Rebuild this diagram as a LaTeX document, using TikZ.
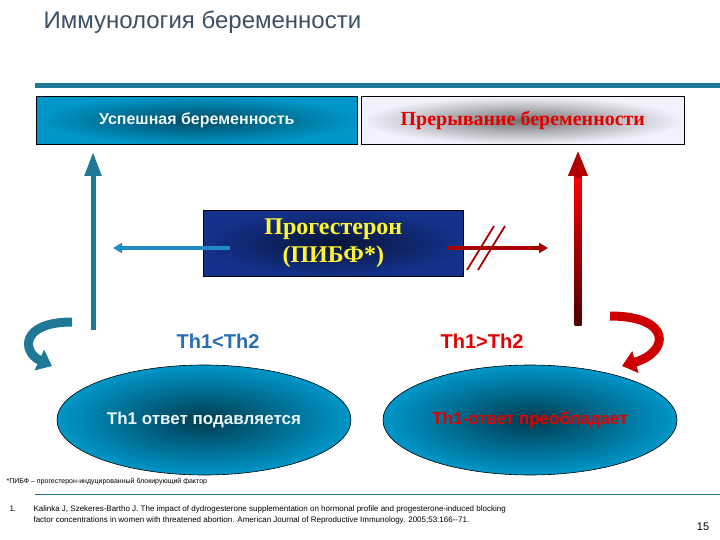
\documentclass[tikz,border=0pt]{standalone}
\usepackage{fontspec}
\setmainfont{Liberation Serif}
\newfontfamily\sansf{Liberation Sans}
\usetikzlibrary{arrows.meta,shapes.geometric,decorations.pathmorphing}
\definecolor{cyanb}{RGB}{0,150,200}
\definecolor{teal1}{RGB}{30,120,150}
\definecolor{navy1}{RGB}{20,50,140}
\definecolor{dred}{RGB}{170,0,0}
\definecolor{tblue}{RGB}{40,110,180}
\definecolor{titlec}{RGB}{60,80,100}
\begin{document}
\begin{tikzpicture}[x=1pt,y=-1pt,
  cbox/.style={draw=black,line width=0.6pt,minimum width=321pt,minimum height=48pt,anchor=north west},
  bigarrow/.style={line width=#1,-{Triangle[length=24pt,width=16pt]}},
  curvarrow/.style={line width=9pt,-{Triangle[length=14pt,width=22pt]}},
  ell/.style={ellipse,draw=black,line width=0.6pt,minimum width=294pt,minimum height=110pt,inner color=black!60!cyanb,outer color=cyanb}]
\useasboundingbox (0,0) rectangle (720,540);
\fill[white] (0,0) rectangle (720,540);
\node[anchor=west,text=titlec,font=\sansf\fontsize{24}{28}\selectfont] (title) at (40,22) {Иммунология беременности};
\draw[teal1,line width=5pt] (35,86) -- (720,86);
\node[cbox,inner color=black!50!cyanb,outer color=cyanb,font=\sansf\bfseries\fontsize{16}{18}\selectfont,text=white!92!cyanb] (ok) at (36,96) {Успешная беременность};
\node[cbox,minimum width=323pt,inner color=black!55,outer color=blue!5,font=\bfseries\fontsize{20}{22}\selectfont,text=red!90!black] (ab) at (361,96) {Прерывание беременности};
\node[draw=black,line width=0.6pt,minimum width=260pt,minimum height=66pt,anchor=north west,inner color=black!60!navy1,outer color=navy1,text=yellow!80!white,font=\bfseries\fontsize{24}{28}\selectfont,align=center] (pg) at (203,210) {Прогестерон\\(ПИБФ*)};
\coordinate (la0) at (93,330);
\coordinate (la1) at (93,152);
\draw[bigarrow=5pt,teal1] (la0) -- (la1);
\coordinate (ra0) at (578,325);
\coordinate (ra1) at (578,150);
\shade[top color=red,bottom color=black!70!red] (574.5,175) rectangle (581.5,325);
\draw[line width=7pt,-{Triangle[length=26pt,width=18pt]},red!70!black] (578,178) -- (ra1);
\coordinate (pl) at (230,248);
\coordinate (pl1) at (113,248);
\draw[line width=4pt,-{Triangle[length=9pt,width=10pt]},tblue!80!cyan] (pl) -- (pl1);
\coordinate (pr) at (447,248);
\coordinate (pr1) at (548,248);
\draw[line width=4pt,-{Triangle[length=9pt,width=10pt]},dred] (pr) -- (pr1);
\draw[dred,line width=1.8pt] (467,270) -- (494,226) (478,270) -- (505,226);
\node[text=tblue,font=\sansf\bfseries\fontsize{20}{22}\selectfont] (t1) at (218,341) {Th1<Th2};
\node[text=red!90!black,font=\sansf\bfseries\fontsize{20}{22}\selectfont] (t2) at (482,341) {Th1>Th2};
\node[ell,text=white!90!cyanb,font=\sansf\bfseries\fontsize{17}{20}\selectfont] (e1) at (204,420) {Th1 ответ подавляется};
\node[ell,text=red!90!black,font=\sansf\bfseries\fontsize{17}{20}\selectfont] (e2) at (530,420) {Th1-ответ преобладает};
\coordinate (cl0) at (72,322);
\coordinate (cl1) at (52,366);
\draw[curvarrow,teal1] (cl0) .. controls (20,322) and (22,352) .. (cl1);
\coordinate (cr0) at (610,316);
\coordinate (cr1) at (622,366);
\draw[curvarrow,red!80!black] (cr0) .. controls (672,316) and (670,352) .. (cr1);
\node[anchor=west,font=\sansf\fontsize{7}{8}\selectfont] (fn) at (3,482) {*ПИБФ – прогестерон-индуцированный блокирующий фактор};
\draw[teal1,line width=0.8pt] (35,494) -- (720,494);
\node[anchor=north west,font=\sansf\fontsize{8}{11}\selectfont] (n1) at (6,502) {1.};
\node[anchor=north west,font=\sansf\fontsize{8}{11}\selectfont,align=left] (ref) at (30,502) {Kalinka J, Szekeres-Bartho J. The impact of dydrogesterone supplementation on hormonal profile and progesterone-induced blocking\\factor concentrations in women with threatened abortion. American Journal of Reproductive Immunology. 2005;53:166--71.};
\node[font=\sansf\fontsize{11}{12}\selectfont] (pn) at (703,527) {15};
\end{tikzpicture}
\end{document}
